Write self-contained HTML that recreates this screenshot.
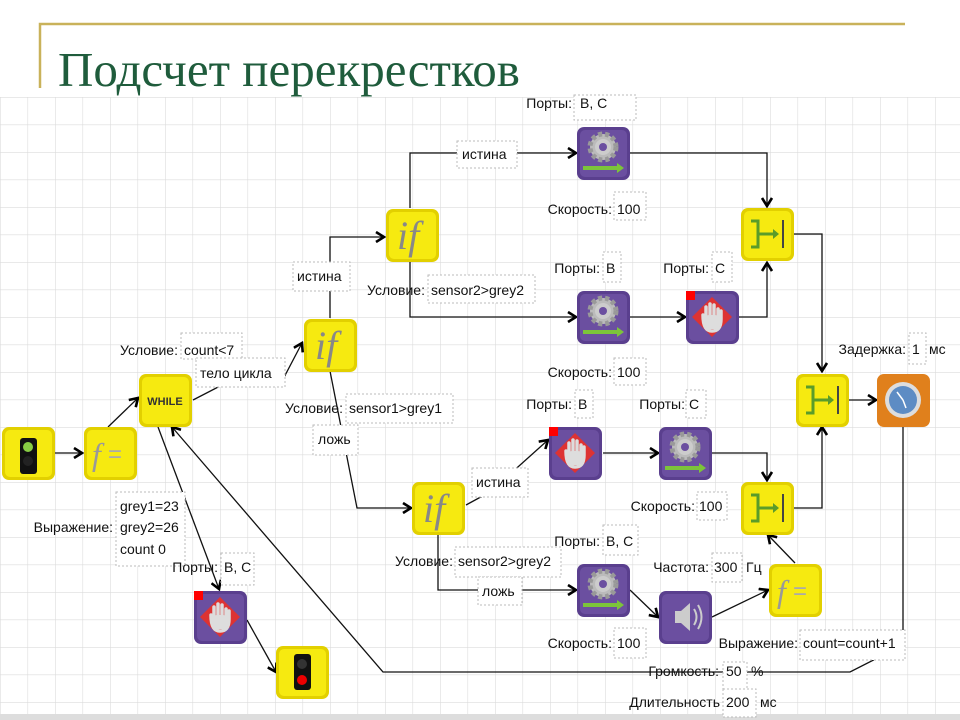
<!DOCTYPE html>
<html><head><meta charset="utf-8"><style>
html,body{margin:0;padding:0;background:#fff;}
svg{display:block;}
text{font-family:"Liberation Sans","DejaVu Sans",sans-serif;font-size:14px;fill:#111;}
.t{font-family:"Liberation Serif","DejaVu Serif",serif;font-size:49px;fill:#1f5c3c;}
.bx{fill:#fff;stroke:#bbb;stroke-dasharray:2 2;stroke-width:1;}
.ln{stroke:#111;stroke-width:1.3;fill:none;}
</style></head><body>
<svg width="960" height="720" viewBox="0 0 960 720" xmlns="http://www.w3.org/2000/svg">
<defs>
<pattern id="g" x="0" y="97" width="27.5" height="27.5" patternUnits="userSpaceOnUse">
<path d="M0 0H27.5M0 0V27.5" stroke="#dcdcdc" stroke-width="1.2" fill="none"/>
</pattern>
<marker id="a" markerWidth="12" markerHeight="12" refX="10" refY="6" orient="auto" markerUnits="userSpaceOnUse">
<path d="M2 1L10 6L2 11" stroke="#000" stroke-width="2.6" fill="none"/>
</marker>
<g id="yel"><rect x="-26" y="-26" width="53" height="53" rx="7" fill="#e2d000"/><rect x="-23" y="-23" width="47" height="47" rx="5" fill="#f6ea10"/></g>
<g id="pur"><rect x="-26" y="-26" width="53" height="53" rx="7" fill="#5a3f8e"/><rect x="-23" y="-23" width="47" height="47" rx="5" fill="#6b4fa0"/></g>
<g id="ifb"><use href="#yel"/><text x="-15" y="14" style="font-family:'Liberation Serif',serif;font-style:italic;font-size:40px;fill:#888;">if</text></g>
<g id="fb"><use href="#yel"/><text x="-18" y="12" style="font-family:'Liberation Serif',serif;font-style:italic;font-size:32px;fill:#999;">f</text><text x="-2" y="9" style="font-size:24px;fill:#aaa;">=</text></g>
<g id="mot"><use href="#pur"/><circle cx="0" cy="-6" r="13" fill="#bbb" stroke="#999" stroke-width="5" stroke-dasharray="4 3"/><circle cx="0" cy="-6" r="8" fill="#ccc"/><circle cx="0" cy="-6" r="4" fill="#6b4fa0"/><path d="M-20 15H16" stroke="#7cc43a" stroke-width="4"/><path d="M14 10L21 15L14 20Z" fill="#7cc43a"/></g>
<g id="stp"><use href="#pur"/><path d="M0 -20L20 0L0 20L-20 0Z" fill="#d33"/><path d="M-9 -2Q-9 14 0 14Q9 14 9 2V-6M-6 4V-10M-2 4V-13M2 4V-12M6 4V-8" stroke="#ddd" stroke-width="3.5" stroke-linecap="round" fill="none"/><rect x="-8" y="-2" width="16" height="14" rx="5" fill="#ddd"/><rect x="-26" y="-26" width="9" height="9" fill="#f00"/></g>
<g id="mrg"><use href="#yel"/><path d="M-16 -13H-9V13H-16" stroke="#5a9c2a" stroke-width="3" fill="none"/><path d="M-9 0H8" stroke="#5a9c2a" stroke-width="3"/><path d="M6 -5L12 0L6 5Z" fill="#5a9c2a"/><path d="M16 -14V14" stroke="#444" stroke-width="2"/></g>
</defs>
<rect width="960" height="720" fill="#fff"/>
<rect x="0" y="97" width="960" height="617" fill="url(#g)"/>
<rect x="0" y="714" width="960" height="6" fill="#ddd"/>
<path d="M40 88V24H905" stroke="#c9b25a" stroke-width="2.5" fill="none"/>
<text class="t" x="58" y="86">Подсчет перекрестков</text>

<g class="ln">
<path d="M55 453H82" marker-end="url(#a)"/>
<path d="M108 427L138 398" marker-end="url(#a)"/>
<path d="M193 400L222 385H280L302 343" marker-end="url(#a)"/>
<path d="M330 318V237H384" marker-end="url(#a)"/>
<path d="M410 208V153H576" marker-end="url(#a)"/>
<path d="M630 153H767V206" marker-end="url(#a)"/>
<path d="M410 262V317H576" marker-end="url(#a)"/>
<path d="M630 317H685" marker-end="url(#a)"/>
<path d="M739 317H767V263" marker-end="url(#a)"/>
<path d="M794 234H822V371" marker-end="url(#a)"/>
<path d="M849 400H876" marker-end="url(#a)"/>
<path d="M330 371L357 508H411" marker-end="url(#a)"/>
<path d="M466 505L490 492L548 440" marker-end="url(#a)"/>
<path d="M603 453H658" marker-end="url(#a)"/>
<path d="M712 453H767V480" marker-end="url(#a)"/>
<path d="M794 508H822V427" marker-end="url(#a)"/>
<path d="M438 535V590H576" marker-end="url(#a)"/>
<path d="M630 590L658 617" marker-end="url(#a)"/>
<path d="M712 617L768 590" marker-end="url(#a)"/>
<path d="M795 563L768 535" marker-end="url(#a)"/>
<path d="M903 427V645L850 672H383L172 427" marker-end="url(#a)"/>
<path d="M158 427L219 589" marker-end="url(#a)"/>
<path d="M247 620L276 672" marker-end="url(#a)"/>
</g>

<g transform="translate(28,453)"><use href="#yel"/><rect x="-8" y="-15" width="17" height="36" rx="3" fill="#111"/><circle cx="0" cy="-6" r="5" fill="#8c4"/><circle cx="0" cy="8" r="5" fill="#222"/></g>
<use href="#fb" x="110" y="453"/>
<g transform="translate(165,400)"><use href="#yel"/><text x="0" y="5" text-anchor="middle" style="font-size:11px;font-weight:bold;fill:#333;">WHILE</text></g>
<use href="#ifb" x="330" y="345"/>
<use href="#ifb" x="412" y="235"/>
<use href="#ifb" x="438" y="508"/>
<use href="#mot" x="603" y="153"/>
<use href="#mot" x="603" y="317"/>
<use href="#stp" x="712" y="317"/>
<use href="#stp" x="575" y="453"/>
<use href="#mot" x="685" y="453"/>
<use href="#mot" x="603" y="590"/>
<g transform="translate(685,617)"><use href="#pur"/><path d="M-10 -6H-4L5 -14V14L-4 6H-10Z" fill="#ccc"/><path d="M9 -8Q14 0 9 8M13 -12Q20 0 13 12" stroke="#ccc" stroke-width="2" fill="none"/></g>
<use href="#fb" x="795" y="590"/>
<use href="#stp" x="220" y="617"/>
<g transform="translate(302,672)"><use href="#yel"/><rect x="-8" y="-18" width="17" height="36" rx="3" fill="#111"/><circle cx="0" cy="-8" r="5" fill="#333"/><circle cx="0" cy="8" r="5" fill="#e00"/></g>
<use href="#mrg" x="767" y="234"/>
<use href="#mrg" x="822" y="400"/>
<use href="#mrg" x="767" y="508"/>
<g transform="translate(903,400)"><rect x="-26" y="-26" width="53" height="53" rx="7" fill="#e0801c"/><circle cx="0" cy="0" r="18" fill="#ddd"/><circle cx="0" cy="0" r="14" fill="#5d8cc4"/><path d="M0 0L-6 -8M0 0L3 8" stroke="#fff" stroke-width="1.5"/></g>

<g>
<text x="572" y="108" text-anchor="end">Порты:</text><rect class="bx" x="574" y="95" width="62" height="25"/><text x="580" y="108">B, C</text>
<rect class="bx" x="457" y="141" width="60" height="27"/><text x="462" y="159">истина</text>
<text x="612" y="214" text-anchor="end">Скорость:</text><rect class="bx" x="614" y="192" width="32" height="28"/><text x="617" y="214">100</text>
<rect class="bx" x="293" y="262" width="57" height="29"/><text x="297" y="281">истина</text>
<text x="425" y="295" text-anchor="end">Условие:</text><rect class="bx" x="428" y="275" width="107" height="28"/><text x="431" y="295">sensor2&gt;grey2</text>
<text x="600" y="273" text-anchor="end">Порты:</text><rect class="bx" x="603" y="252" width="18" height="30"/><text x="606" y="273">B</text>
<text x="709" y="273" text-anchor="end">Порты:</text><rect class="bx" x="712" y="252" width="20" height="30"/><text x="715" y="273">C</text>
<text x="612" y="377" text-anchor="end">Скорость:</text><rect class="bx" x="614" y="358" width="32" height="27"/><text x="617" y="377">100</text>
<text x="178" y="355" text-anchor="end">Условие:</text><rect class="bx" x="181" y="333" width="61" height="26"/><text x="184" y="355">count&lt;7</text>
<rect class="bx" x="196" y="358" width="89" height="29"/><text x="200" y="378">тело цикла</text>
<text x="343" y="413" text-anchor="end">Условие:</text><rect class="bx" x="346" y="394" width="107" height="29"/><text x="349" y="413">sensor1&gt;grey1</text>
<rect class="bx" x="313" y="425" width="45" height="30"/><text x="318" y="444">ложь</text>
<text x="572" y="409" text-anchor="end">Порты:</text><rect class="bx" x="575" y="390" width="18" height="28"/><text x="578" y="409">B</text>
<text x="685" y="409" text-anchor="end">Порты:</text><rect class="bx" x="686" y="390" width="20" height="28"/><text x="689" y="409">C</text>
<rect class="bx" x="472" y="468" width="56" height="29"/><text x="476" y="487">истина</text>
<text x="695" y="511" text-anchor="end">Скорость:</text><rect class="bx" x="697" y="492" width="30" height="28"/><text x="699" y="511">100</text>
<text x="113" y="532" text-anchor="end">Выражение:</text><rect class="bx" x="116" y="492" width="69" height="74"/>
<text x="120" y="511">grey1=23</text><text x="120" y="532">grey2=26</text><text x="120" y="554">count 0</text>
<text x="218" y="572" text-anchor="end">Порты:</text><rect class="bx" x="221" y="553" width="33" height="32"/><text x="224" y="572">B, C</text>
<text x="453" y="566" text-anchor="end">Условие:</text><rect class="bx" x="455" y="547" width="106" height="30"/><text x="458" y="566">sensor2&gt;grey2</text>
<text x="600" y="546" text-anchor="end">Порты:</text><rect class="bx" x="603" y="525" width="35" height="30"/><text x="606" y="546">B, C</text>
<rect class="bx" x="478" y="577" width="44" height="28"/><text x="482" y="596">ложь</text>
<text x="709" y="572" text-anchor="end">Частота:</text><rect class="bx" x="712" y="553" width="30" height="29"/><text x="714" y="572">300</text><text x="746" y="572">Гц</text>
<text x="612" y="648" text-anchor="end">Скорость:</text><rect class="bx" x="614" y="628" width="32" height="30"/><text x="617" y="648">100</text>
<text x="798" y="648" text-anchor="end">Выражение:</text><rect class="bx" x="800" y="630" width="105" height="30"/><text x="803" y="648">count=count+1</text>
<text x="719" y="676" text-anchor="end">Громкость:</text><rect class="bx" x="723" y="662" width="24" height="30"/><text x="726" y="676">50</text><text x="751" y="676">%</text>
<text x="720" y="707" text-anchor="end">Длительность</text><rect class="bx" x="723" y="689" width="33" height="28"/><text x="726" y="707">200</text><text x="760" y="707">мс</text>
<text x="906" y="354" text-anchor="end">Задержка:</text><rect class="bx" x="909" y="333" width="17" height="31"/><text x="912" y="354">1</text><text x="929" y="354">мс</text>
</g>
</svg>
</body></html>
